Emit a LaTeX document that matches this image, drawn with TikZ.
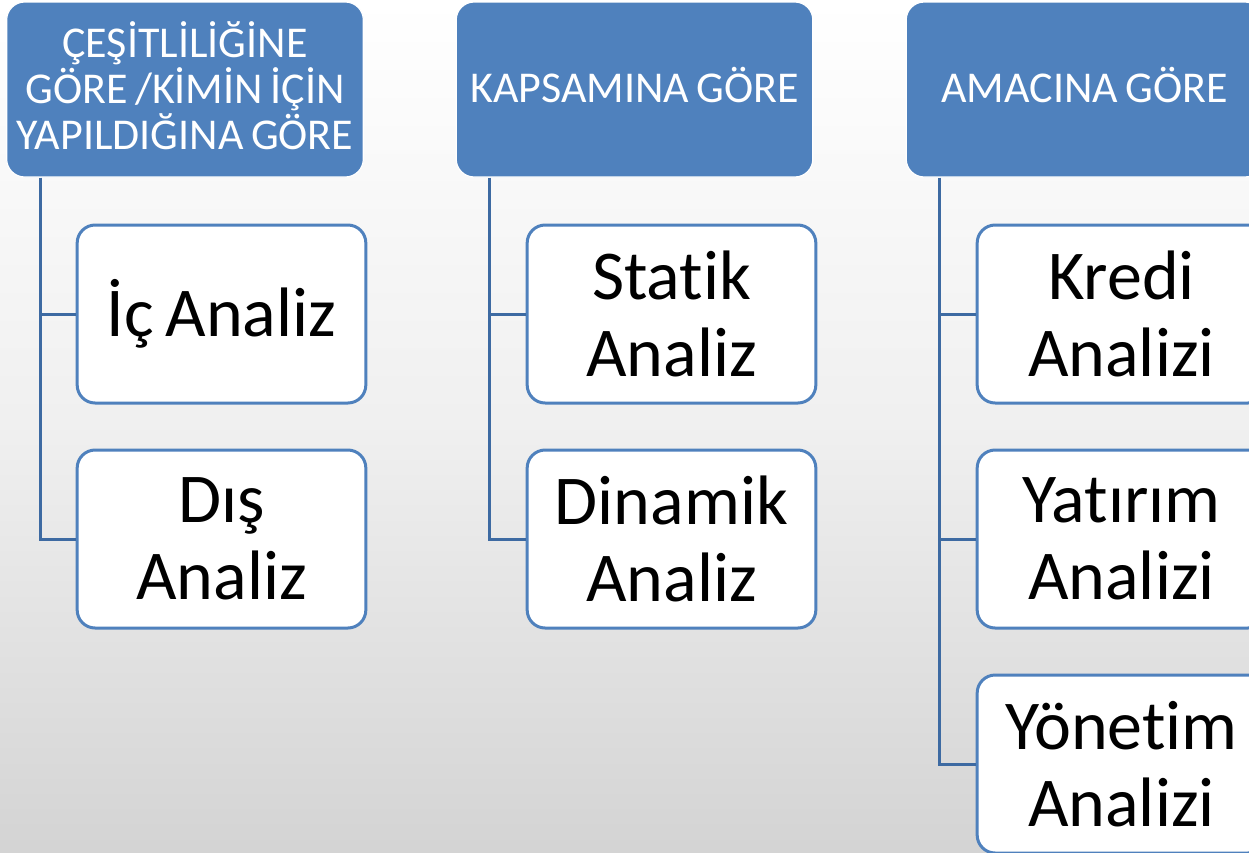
\documentclass[tikz,border=0pt]{standalone}
\usepackage{fontspec}
\setmainfont{Carlito}[Ligatures={NoCommon}]
\usetikzlibrary{calc}
\definecolor{headblue}{HTML}{4F81BD}
\definecolor{linkblue}{HTML}{3D6AA2}
% narrow word gap, as set in the boxes
\newcommand\wsp{\hskip0.17em\relax}
\tikzset{
  header/.style={rounded corners=18pt, fill=headblue, draw=white, line width=1.2pt,
    minimum width=354pt, minimum height=175pt, text width=350pt, align=center,
    text=white, font=\fontsize{44}{46}\selectfont},
  leaf/.style={rounded corners=18pt, fill=white, draw=headblue, line width=3pt,
    minimum width=288pt, minimum height=178pt, text width=282pt, align=center,
    text=black, font=\fontsize{70}{77}\selectfont},
  link/.style={draw=linkblue, line width=3pt}
}
\begin{document}
\begin{tikzpicture}[x=1pt,y=-1pt]
  % page and backdrop
  \useasboundingbox (0,0) rectangle (1249,852);
  \begin{scope}
    \clip (0,0) rectangle (1249,852);
    \shade[top color=white, bottom color=black!17, middle color=black!6] (0,0) rectangle (1249,852);

    % category headers
    \node[header] (h1) at (185,89.5) {ÇEŞİTLİLİĞİNE\\GÖRE\wsp/KİMİN\wsp İÇİN\\YAPILDIĞINA\wsp GÖRE\par\vspace{8pt}};
    \node[header] (h2) at (634.5,89.5) {KAPSAMINA\wsp GÖRE\par\vspace{8pt}};
    \node[header] (h3) at (1084.5,89.5) {AMACINA\wsp GÖRE\par\vspace{8pt}};

    % analysis types
    \node[leaf] (a1) at (221.5,314) {İç\wsp Analiz};
    \node[leaf] (a2) at (221.5,539) {Dış\\Analiz};
    \node[leaf] (b1) at (671.5,314) {Statik\\Analiz};
    \node[leaf] (b2) at (671.5,539) {Dinamik\\Analiz};
    \node[leaf] (c1) at (1121.5,314) {Kredi\\Analizi};
    \node[leaf] (c2) at (1121.5,539) {Yatırım\\Analizi};
    \node[leaf] (c3) at (1121.5,764) {Yönetim\\Analizi};

    % tree connectors
    \coordinate (s1) at ([xshift=34pt]h1.south west);
    \coordinate (s2) at ([xshift=34pt]h2.south west);
    \coordinate (s3) at ([xshift=34pt]h3.south west);
    \draw[link] (s1) |- (a2.west);
    \draw[link] (s1 |- a1.west) -- (a1.west);
    \draw[link] (s2) |- (b2.west);
    \draw[link] (s2 |- b1.west) -- (b1.west);
    \draw[link] (s3) |- (c3.west);
    \draw[link] (s3 |- c1.west) -- (c1.west);
    \draw[link] (s3 |- c2.west) -- (c2.west);
  \end{scope}
\end{tikzpicture}
\end{document}
